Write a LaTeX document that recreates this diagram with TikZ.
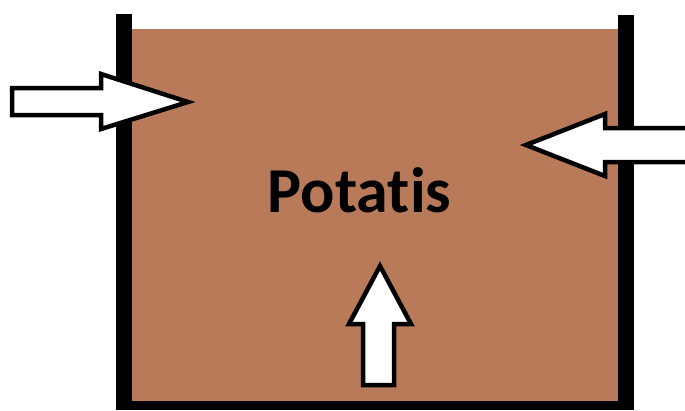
\documentclass[tikz,border=0pt]{standalone}
\usepackage{fontspec}
\setmainfont{Carlito}[Ligatures=NoCommon]
\definecolor{potato}{RGB}{184,122,88}
\begin{document}
\begin{tikzpicture}[x=1pt,y=-1pt,
  wall/.style={fill=black},
  bigarrow/.style={fill=white,draw=black,line width=4.5pt,line join=miter},
  label/.style={font=\bfseries\fontsize{64}{64}\selectfont,anchor=base,inner sep=0pt}]
\useasboundingbox (0,0) rectangle (685,410);
\clip (0,0) rectangle (685,410);
% contents
\fill[potato] (132,29) rectangle (618,401);
% walls
\fill[wall] (116,14) rectangle (132,410);
\fill[wall] (618,15) rectangle (634,410);
\fill[wall] (116,401) rectangle (634,410);
% arrows
\draw[bigarrow] (12,88) -- (101,88) -- (101,74) -- (188,102) -- (101,129) -- (101,115) -- (12,115) -- cycle;
\draw[bigarrow] (695,128) -- (605,128) -- (605,114) -- (526,145) -- (605,176) -- (605,162) -- (695,162);
\draw[bigarrow] (380,266) -- (411,324) -- (394,324) -- (394,385) -- (363,385) -- (363,324) -- (349,324) -- cycle;
\node[label] (t) at (359.5,212) {Potatis};
\end{tikzpicture}
\end{document}
